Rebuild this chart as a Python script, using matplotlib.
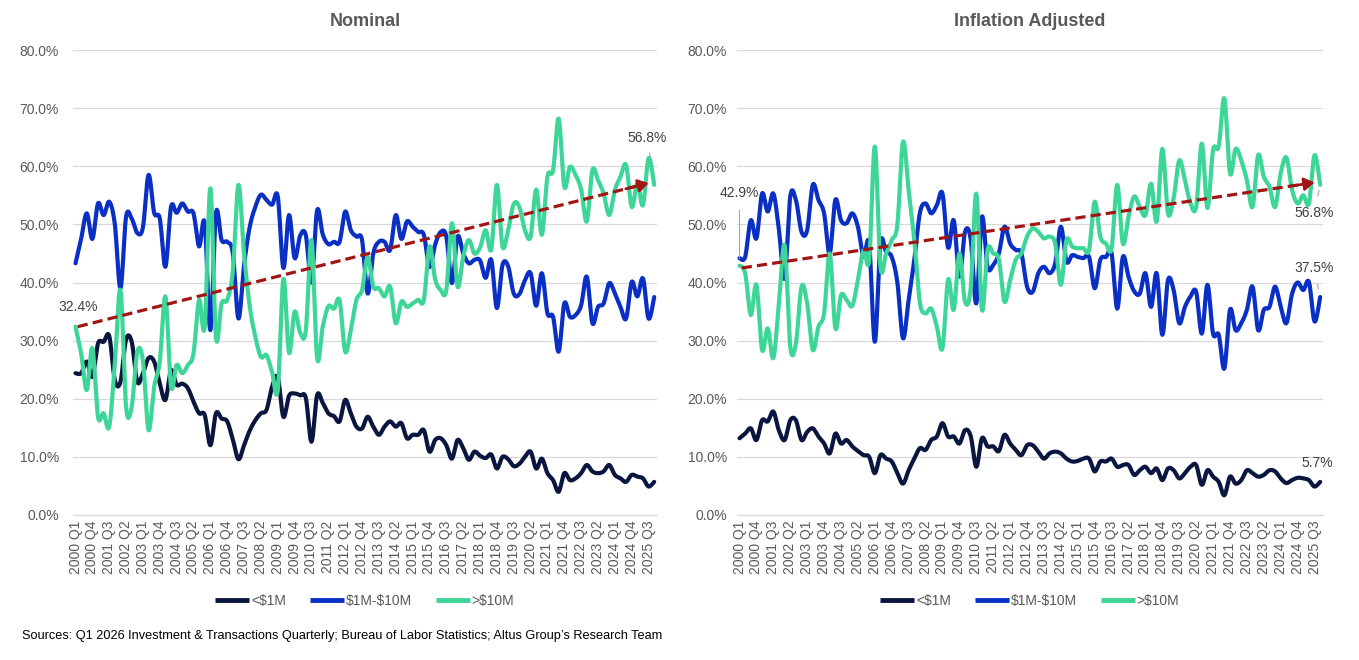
import numpy as np
import matplotlib
matplotlib.use("Agg")
import matplotlib.pyplot as plt
from matplotlib.ticker import FuncFormatter

plt.rcParams['font.family'] = ['Liberation Sans', 'DejaVu Sans']

# ---------------- data ----------------
years = list(range(2000, 2026))
quarters = [f"{y} Q{q}" for y in years for q in (1, 2, 3, 4)]

series_names = ["<$1M", "$1M-$10M", ">$10M"]

nominal_small = [24.4, 24.4, 26.4, 23.8, 29.5, 29.8, 30.8, 23.2, 22.9, 30.2, 29.8, 22.9, 24.4, 27.0, 26.4, 22.6,
                 19.8, 24.9, 22.4, 22.6, 21.8, 19.5, 17.5, 17.2, 12.0, 17.5, 16.6, 16.1, 13.0, 9.6, 12.0, 14.5,
                 16.3, 17.5, 18.1, 22.1, 23.7, 16.9, 20.5, 20.9, 20.6, 20.1, 12.6, 20.6, 19.3, 17.5, 17.0, 16.1,
                 19.8, 17.5, 15.2, 14.9, 16.9, 15.2, 13.8, 15.2, 16.1, 15.2, 15.8, 13.2, 13.8, 13.8, 14.6, 10.9,
                 12.9, 13.2, 12.0, 9.7, 12.9, 11.5, 9.5, 10.9, 10.2, 9.8, 10.4, 8.0, 10.0, 9.6, 8.4, 8.8,
                 10.0, 10.9, 8.0, 9.7, 7.2, 6.0, 4.0, 7.2, 6.0, 6.3, 7.2, 8.6, 7.5, 7.2, 7.5, 8.6,
                 6.9, 6.3, 5.7, 6.9, 6.6, 6.3, 4.9, 5.7]
nominal_mid = [43.3, 47.5, 51.9, 47.5, 53.6, 51.6, 53.9, 50.0, 39.0, 51.3, 51.0, 48.5, 49.5, 58.5, 52.0, 51.0,
               42.7, 53.0, 52.0, 53.6, 52.2, 51.9, 46.2, 50.2, 31.8, 51.9, 47.3, 47.0, 45.0, 33.8, 43.0, 49.5,
               53.0, 55.1, 54.2, 53.4, 54.8, 42.5, 51.6, 44.2, 48.1, 48.1, 40.0, 52.4, 48.3, 46.6, 47.0, 47.0,
               52.2, 49.0, 47.9, 47.3, 38.1, 45.0, 47.0, 47.0, 45.6, 51.6, 47.5, 50.5, 49.6, 48.7, 48.2, 42.7,
               46.5, 48.7, 47.9, 39.9, 47.9, 45.0, 43.3, 43.9, 43.8, 40.8, 43.9, 35.6, 43.0, 42.8, 38.1, 38.0,
               40.4, 41.6, 36.0, 41.6, 34.7, 34.1, 28.1, 36.4, 34.1, 34.4, 36.1, 41.0, 33.0, 35.8, 36.4, 39.9,
               38.1, 35.8, 33.8, 40.1, 37.6, 40.7, 33.8, 37.5]
nominal_large = [32.4, 27.8, 21.5, 28.7, 16.9, 17.5, 15.2, 26.0, 38.7, 18.6, 18.6, 28.1, 26.5, 14.6, 22.1, 26.4,
                 37.6, 22.1, 25.8, 24.4, 25.8, 27.8, 37.0, 32.4, 56.2, 30.6, 36.4, 37.0, 42.0, 56.8, 45.0, 36.0,
                 30.7, 27.2, 27.5, 24.5, 21.5, 40.6, 27.9, 35.0, 31.3, 31.8, 47.3, 27.0, 32.4, 35.9, 35.5, 36.9,
                 28.1, 31.8, 37.0, 38.7, 44.4, 39.3, 39.0, 37.6, 39.3, 33.0, 36.7, 35.8, 36.4, 37.0, 37.0, 46.2,
                 40.6, 38.7, 38.7, 50.2, 39.3, 44.4, 47.3, 45.0, 46.0, 49.0, 45.7, 56.8, 46.2, 49.0, 53.5, 53.0,
                 49.0, 47.9, 56.0, 48.2, 58.2, 59.3, 68.2, 56.5, 59.9, 58.5, 56.0, 50.5, 59.3, 57.6, 55.3, 51.6,
                 55.9, 58.2, 60.2, 53.0, 57.1, 53.3, 61.4, 56.8]

real_small = [13.2, 14.0, 14.9, 12.9, 16.3, 16.1, 17.8, 14.5, 12.9, 16.3, 16.3, 12.9, 14.3, 14.9, 13.5, 12.3,
              10.6, 14.0, 12.3, 12.9, 11.8, 11.0, 10.3, 10.0, 7.2, 10.3, 9.7, 9.2, 7.2, 5.4, 7.7, 9.7,
              11.5, 11.2, 12.9, 13.5, 15.8, 13.5, 13.5, 12.3, 14.6, 13.6, 8.3, 13.2, 11.8, 11.8, 11.0, 13.8,
              12.3, 11.2, 10.3, 12.0, 12.0, 10.9, 9.7, 10.6, 10.9, 10.6, 9.7, 9.2, 9.3, 9.7, 9.7, 7.5,
              9.2, 9.2, 9.7, 8.3, 8.6, 8.6, 6.9, 7.7, 8.3, 7.2, 8.0, 6.0, 8.0, 7.7, 6.3, 7.2,
              8.3, 8.6, 5.2, 7.7, 6.6, 5.7, 3.4, 6.6, 5.4, 6.0, 7.7, 7.2, 6.6, 6.9, 7.7, 7.5,
              6.3, 5.5, 6.0, 6.4, 6.3, 6.0, 4.9, 5.7]
real_mid = [44.2, 44.4, 50.7, 47.6, 55.3, 52.2, 55.3, 49.0, 40.7, 54.8, 54.2, 48.7, 49.0, 56.8, 54.2, 51.9,
            45.0, 54.2, 50.7, 50.2, 51.9, 49.6, 44.4, 46.7, 29.8, 46.7, 45.3, 44.4, 40.0, 30.4, 37.0, 43.9,
            52.0, 53.6, 51.9, 53.3, 55.3, 46.0, 50.7, 41.0, 48.7, 47.5, 36.4, 51.3, 42.7, 43.0, 45.0, 49.6,
            46.7, 45.6, 45.0, 39.3, 38.4, 41.6, 42.7, 41.6, 43.3, 49.6, 43.6, 44.7, 44.4, 44.2, 44.4, 39.0,
            43.9, 44.4, 45.0, 35.5, 44.4, 41.0, 38.5, 38.1, 41.6, 35.8, 41.6, 31.0, 40.4, 38.7, 33.0, 35.8,
            37.6, 38.4, 31.2, 39.6, 31.2, 31.0, 25.2, 35.3, 31.8, 33.0, 35.3, 39.3, 31.8, 35.3, 35.8, 39.3,
            35.8, 33.0, 38.0, 40.0, 38.7, 40.1, 33.3, 37.5]
real_large = [42.9, 41.6, 34.4, 39.6, 28.4, 32.1, 27.0, 36.5, 46.4, 29.0, 29.5, 39.3, 36.4, 28.4, 32.4, 34.7,
              45.0, 32.1, 37.8, 37.0, 36.0, 40.4, 45.5, 43.9, 63.4, 42.7, 45.0, 47.3, 50.0, 64.2, 55.9, 47.3,
              36.5, 34.7, 35.5, 32.4, 28.7, 40.5, 35.3, 45.0, 36.7, 39.0, 55.3, 35.3, 45.6, 45.0, 44.0, 36.7,
              40.4, 43.9, 45.0, 47.9, 49.3, 48.7, 47.6, 47.9, 46.7, 39.6, 47.3, 46.2, 45.9, 45.9, 45.6, 53.9,
              47.9, 46.7, 45.9, 56.8, 46.7, 51.3, 54.8, 53.0, 51.6, 57.0, 50.5, 63.0, 51.9, 54.5, 61.0, 57.6,
              53.6, 53.0, 63.9, 52.8, 62.8, 63.4, 71.7, 58.8, 63.0, 61.0, 57.6, 53.0, 61.9, 58.2, 56.5, 53.0,
              58.8, 61.5, 56.0, 53.6, 55.0, 53.6, 61.9, 56.8]

# trend arrow (start value, end value) for >$10M
trend_nominal = [32.4, 57.1]
trend_real = [42.5, 57.2]

# ---------------- style ----------------
colors = ['#0b1640', '#0a2fc4', '#3dd698']
grid_c = '#d9d9d9'
txt_c = '#595959'
lab_c = '#404040'
trend_c = '#a31515'


def smooth(y, n=12):
    """Excel-like smoothed line (cubic Bezier / Catmull-Rom through the points)."""
    y = np.asarray(y, float)
    x = np.arange(len(y), dtype=float)
    P = np.concatenate([[y[0]], y, [y[-1]]])
    X = np.concatenate([[x[0]], x, [x[-1]]])
    t = np.linspace(0, 1, n, endpoint=False)
    xs, ys = [], []
    for i in range(len(y) - 1):
        for arr, out in ((X, xs), (P, ys)):
            p0, p1, p2, p3 = arr[i], arr[i + 1], arr[i + 2], arr[i + 3]
            c1 = p1 + (p2 - p0) / 6
            c2 = p2 - (p3 - p1) / 6
            out.append((1 - t) ** 3 * p1 + 3 * (1 - t) ** 2 * t * c1 + 3 * (1 - t) * t ** 2 * c2 + t ** 3 * p2)
    xs.append([x[-1]])
    ys.append([y[-1]])
    return np.concatenate(xs), np.concatenate(ys)


fig = plt.figure(figsize=(13.59, 6.60), dpi=100)
ax1 = fig.add_axes([72.7 / 1359, 145 / 660, 584.3 / 1359, 465 / 660])
ax2 = fig.add_axes([736.7 / 1359, 145 / 660, 586.3 / 1359, 465 / 660])

n = len(nominal_small)


def setup(ax, title, ypad):
    ax.set_xlim(-0.5, n - 0.5)
    ax.set_ylim(0, 80)
    ax.set_yticks(np.arange(0, 81, 10))
    ax.yaxis.set_major_formatter(FuncFormatter(lambda v, p: f"{v:.1f}%"))
    ax.set_xticks(np.arange(0, n, 3))
    ax.set_xticklabels(quarters[0:n:3], rotation=90)
    ax.tick_params(axis='both', length=0, labelcolor=txt_c, labelsize=10)
    ax.tick_params(axis='y', pad=ypad)
    ax.tick_params(axis='x', pad=4)
    ax.grid(axis='y', color=grid_c, lw=0.9)
    ax.set_axisbelow(True)
    for s in ('left', 'right', 'top'):
        ax.spines[s].set_visible(False)
    ax.spines['bottom'].set_color(grid_c)
    ax.spines['bottom'].set_linewidth(0.9)
    ax.set_title(title, fontsize=13, fontweight='bold', color=txt_c, pad=17)


def draw(ax, data, trend):
    handles = []
    for vals, c, name in zip(data, colors, series_names):
        xs, ys = smooth(vals)
        h, = ax.plot(xs, ys, color=c, lw=3.0, solid_capstyle='round', solid_joinstyle='round',
                     label=name.replace('$', r'\$'))
        handles.append(h)
    # trend arrow
    x0, x1 = 0.4, n - 2
    y0, y1 = trend
    frac = 0.985
    ax.plot([x0, x0 + (x1 - x0) * frac], [y0, y0 + (y1 - y0) * frac], color=trend_c, lw=2.3,
            linestyle=(0, (3.2, 1.6)), zorder=5)
    ax.annotate('', xy=(x1, y1), xytext=(x0 + (x1 - x0) * 0.96, y0 + (y1 - y0) * 0.96),
                arrowprops=dict(arrowstyle='-|>,head_length=0.6,head_width=0.38', color=trend_c, lw=2.0,
                                shrinkA=0, shrinkB=0), zorder=6)
    leg = ax.legend(handles=handles, loc='center', bbox_to_anchor=(0.5, -0.185), ncol=3, frameon=False,
                    fontsize=10, handlelength=2.45, handletextpad=0.15, columnspacing=1.7,
                    labelcolor=txt_c)
    for l in leg.get_lines():
        l.set_linewidth(3.5)
        l.set_solid_capstyle('butt')


setup(ax1, 'Nominal', 10)
setup(ax2, 'Inflation Adjusted', 7)
draw(ax1, [nominal_small, nominal_mid, nominal_large], trend_nominal)
draw(ax2, [real_small, real_mid, real_large], trend_real)

lead = dict(arrowstyle='-', color='#a6a6a6', lw=0.8)

# data labels - nominal
ax1.annotate(f"{nominal_large[0]:.1f}%", xy=(0, nominal_large[0]), xytext=(2, 14), textcoords='offset points',
             ha='center', va='center', fontsize=10, color=lab_c, zorder=7)
ax1.annotate(f"{nominal_large[-1]:.1f}%", xy=(n - 1, nominal_large[-1]), xytext=(-5, 34),
             textcoords='offset points', ha='center', va='center', fontsize=10, color=lab_c,
             arrowprops=dict(lead, shrinkA=4, shrinkB=20), zorder=7)

# data labels - inflation adjusted
ax2.annotate(f"{real_large[0]:.1f}%", xy=(0, real_large[0]), xytext=(0, 52), textcoords='offset points',
             ha='center', va='center', fontsize=10, color=lab_c, annotation_clip=False,
             arrowprops=dict(lead, shrinkA=5, shrinkB=5), zorder=7)
ax2.annotate(f"{real_large[-1]:.1f}%", xy=(n - 1, real_large[-1]), xytext=(-4.5, -20),
             textcoords='offset points', ha='center', va='center', fontsize=10, color=lab_c,
             arrowprops=dict(lead, shrinkA=5, shrinkB=4), zorder=7)
ax2.annotate(f"{real_mid[-1]:.1f}%", xy=(n - 1, real_mid[-1]), xytext=(-4.5, 21),
             textcoords='offset points', ha='center', va='center', fontsize=10, color=lab_c,
             arrowprops=dict(lead, shrinkA=5, shrinkB=6), zorder=7)
ax2.annotate(f"{real_small[-1]:.1f}%", xy=(n - 1, real_small[-1]), xytext=(-2, 13.5),
             textcoords='offset points', ha='center', va='center', fontsize=10, color=lab_c, zorder=7)

fig.text(22 / 1359, 1 - 636 / 660,
         "Sources: Q1 2026 Investment & Transactions Quarterly; Bureau of Labor Statistics; Altus Group\u2019s Research Team",
         fontsize=9.2, color='#000000', ha='left', va='center')

fig.savefig('out.png', dpi=100)
